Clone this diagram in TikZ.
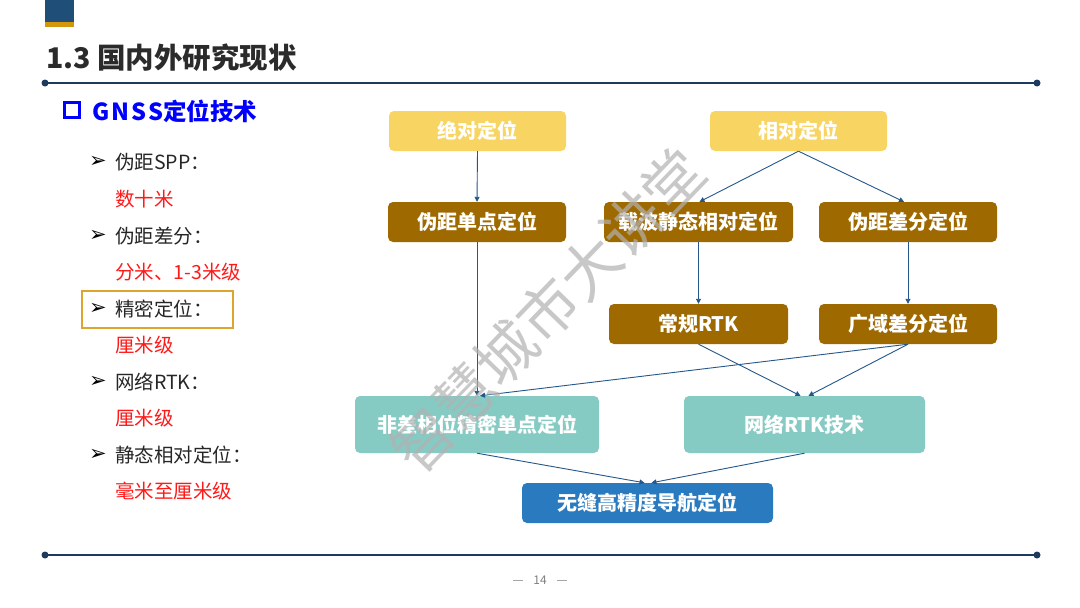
\documentclass[tikz,border=0pt]{standalone}
\usepackage{fontspec}
\setmainfont{Noto Sans CJK SC}
\newfontfamily\dvfont{DejaVu Sans}
\newfontfamily\widefont[LetterSpace=9]{Noto Sans CJK SC}
\usetikzlibrary{arrows.meta}
\definecolor{navy}{HTML}{1F3A5F}
\definecolor{sqblue}{HTML}{1F4E79}
\definecolor{sqgold}{HTML}{D4960A}
\definecolor{lgold}{HTML}{F8D462}
\definecolor{brown}{HTML}{9E6A00}
\definecolor{teal}{HTML}{86CBC3}
\definecolor{dblue}{HTML}{2A7ABF}
\definecolor{arr}{HTML}{24578A}
\definecolor{titlegray}{HTML}{2B2B2B}
\definecolor{myred}{HTML}{FF1A1A}
\definecolor{boxor}{HTML}{DDA52E}
\definecolor{pgray}{HTML}{7F7F7F}
\tikzset{
  fbox/.style={rectangle, rounded corners=5pt, text=white, font=\bfseries\fontsize{20}{20}\selectfont, inner sep=0pt},
  ybox/.style={fbox, fill=lgold},
  bbox/.style={fbox, fill=brown},
  tbox/.style={fbox, fill=teal},
  ubox/.style={fbox, fill=dblue},
  con/.style={draw=arr, line width=0.9pt, -{Triangle[width=5pt,length=5pt]}},
  enddot/.style={circle, fill=navy, inner sep=0pt, minimum size=7pt},
  item/.style={anchor=west, inner sep=0pt, text=black!85, font=\fontsize{19.5}{20}\selectfont},
  val/.style={anchor=west, inner sep=0pt, text=myred, font=\fontsize{19.5}{20}\selectfont},
  bul/.style={anchor=west, inner sep=0pt, text=black, font=\dvfont\fontsize{21}{21}\selectfont}
}
\begin{document}
\begin{tikzpicture}[x=1pt,y=-1pt]
\useasboundingbox (0,0) rectangle (1080,608);
\fill[white] (0,0) rectangle (1080,608);
% top-left marker
\fill[sqblue] (45,0) rectangle (74,22);
\fill[sqgold] (45,22) rectangle (74,27);
% title
\node[anchor=west, inner sep=0pt, text=titlegray, font=\bfseries\fontsize{28.5}{28.5}\selectfont] (title) at (46,58) {1.3 国内外研究现状};
% top rule
\node[enddot] (t1) at (45,83) {};
\node[enddot] (t2) at (1037,83) {};
\draw[navy, line width=2pt] (t1.center) -- (t2.center);
% subtitle
\draw[blue, line width=2.6pt] (64.5,102.5) rectangle (79.5,117.5);
\node[anchor=west, inner sep=0pt, text=blue, font=\bfseries\fontsize{23.5}{24}\selectfont] (sub) at (92,111) {{\widefont GNSS}定位技术};
% list
\node[bul] (b1) at (89,162) {➢};
\node[item] (i1) at (115,162) {伪距SPP：};
\node[val] (v1) at (115,199) {数十米};
\node[bul] (b2) at (89,236) {➢};
\node[item] (i2) at (115,236) {伪距差分：};
\node[val] (v2) at (115,272) {分米、1-3米级};
\node[bul] (b3) at (89,309) {➢};
\node[item] (i3) at (115,309) {精密定位：};
\node[val] (v3) at (115,345) {厘米级};
\node[bul] (b4) at (89,382) {➢};
\node[item] (i4) at (115,382) {网络RTK：};
\node[val] (v4) at (115,418) {厘米级};
\node[bul] (b5) at (89,455) {➢};
\node[item] (i5) at (115,455) {静态相对定位：};
\node[val] (v5) at (115,491) {毫米至厘米级};
\draw[boxor, line width=1.5pt] (82,291) rectangle (233,328);
% flowchart
\node[ybox, minimum width=177pt, minimum height=40pt] (jd) at (477.5,131) {绝对定位};
\node[ybox, minimum width=177pt, minimum height=40pt] (xd) at (798.5,131) {相对定位};
\node[bbox, minimum width=178pt, minimum height=40pt] (wjd) at (477,222) {伪距单点定位};
\node[bbox, minimum width=189pt, minimum height=40pt] (zb) at (698.5,222) {载波静态相对定位};
\node[bbox, minimum width=178pt, minimum height=40pt] (wjc) at (908,222) {伪距差分定位};
\node[bbox, minimum width=179pt, minimum height=40pt] (cg) at (698.5,324) {常规RTK};
\node[bbox, minimum width=178pt, minimum height=40pt] (gy) at (908,324) {广域差分定位};
\node[tbox, minimum width=244pt, minimum height=57pt] (fc) at (477,424.5) {非差相位精密单点定位};
\node[tbox, minimum width=241pt, minimum height=57pt] (wl) at (804.5,424.5) {网络RTK技术};
\node[ubox, minimum width=251pt, minimum height=40pt] (wf) at (647.5,503) {无缝高精度导航定位};
% connectors
\draw[con] (jd.south) -- (wjd.north);
\draw[con] (xd.south) -- ([xshift=1pt]zb.north);
\draw[con] (xd.south) -- ([xshift=-4pt]wjc.north);
\draw[con] (zb.south) -- (cg.north);
\draw[con] (wjc.south) -- (gy.north);
\draw[con] (wjd.south) -- (fc.north);
\draw[con] (gy.south) -- ([xshift=3pt]fc.north);
\draw[con] (cg.south) -- ([xshift=-4pt]wl.north);
\draw[con] (gy.south) -- ([xshift=4pt]wl.north);
\draw[con] (fc.south) -- ([xshift=-3pt]wf.north);
\draw[con] (wl.south) -- ([xshift=4pt]wf.north);
% bottom rule
\node[enddot] (u1) at (45,555) {};
\node[enddot] (u2) at (1037,555) {};
\draw[navy, line width=2pt] (u1.center) -- (u2.center);
% page number
\node[inner sep=0pt, text=pgray, font=\fontsize{12}{12}\selectfont] (pn) at (540,580) {14};
\draw[pgray!70, line width=0.6pt] (513,580) -- (523,580);
\draw[pgray!70, line width=0.6pt] (557,580) -- (567,580);
% watermark
\node[rotate=46, inner sep=0pt, text=black!30, opacity=0.7, font=\fontsize{60}{60}\selectfont] (wm) at (548,310) {智慧城市大讲堂};
\end{tikzpicture}
\end{document}
